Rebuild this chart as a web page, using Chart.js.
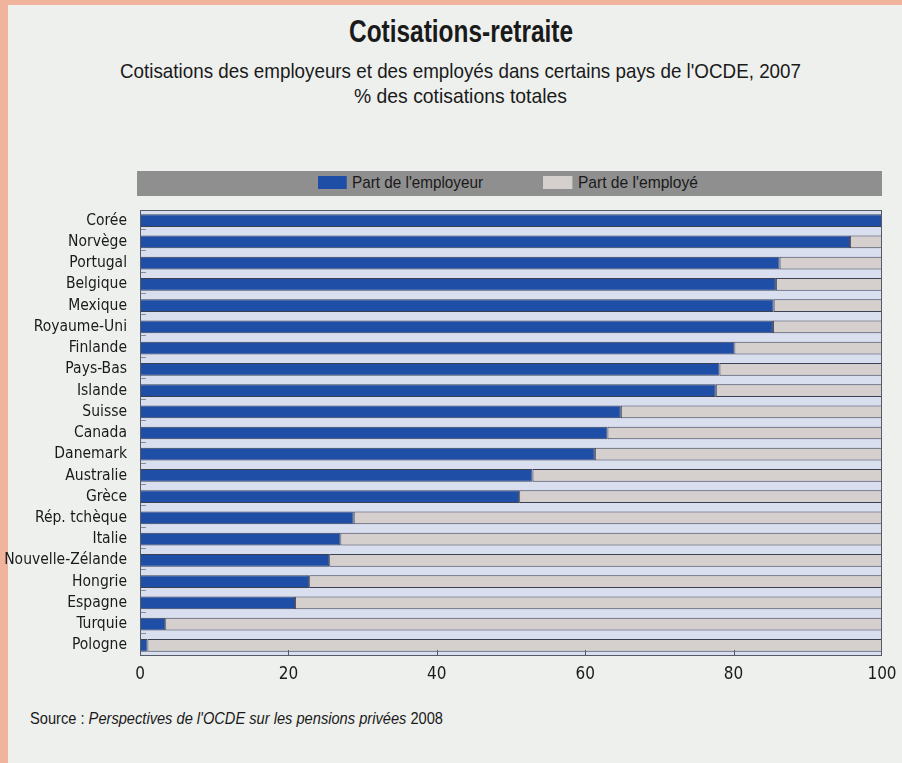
<!DOCTYPE html>
<html>
<head>
<meta charset="utf-8">
<script src="https://cdn.jsdelivr.net/npm/chart.js@4"></script>
<style>
  html, body { margin: 0; padding: 0; }
  body { width: 902px; height: 763px; background: #f0b39c; position: relative; overflow: hidden;
         font-family: "Liberation Sans", Arial, sans-serif; color: #1a1a1a; }
  #panel { position: absolute; left: 8px; top: 5px; right: 0; bottom: 0; background: #eef0ee; }
  .t { position: absolute; white-space: nowrap; transform-origin: 0 0; }
  #title { top: 14px; font-size: 31px; font-weight: bold; }
  #sub1 { top: 59px; font-size: 21px; }
  #sub2 { top: 84px; font-size: 21px; }
  #legend { position: absolute; left: 137px; top: 171px; width: 745px; height: 25px; background: #8f8f8f; }
  .item { position: absolute; top: 2px; font-size: 17px; line-height: 20px; color: #1a1a1a;
          white-space: nowrap; transform-origin: 0 0; }
  .box { display: inline-block; width: 32px; height: 13px; vertical-align: -1px; margin-right: 6px; }
  #source { top: 709px; left: 30px; font-size: 17px; }
  canvas { position: absolute; left: 0; top: 0; }
</style>
</head>
<body>
<div id="panel"></div>
<div class="t" id="title" data-w="224" data-c="461">Cotisations-retraite</div>
<div class="t" id="sub1" data-w="681" data-c="460">Cotisations des employeurs et des employés dans certains pays de l'OCDE, 2007</div>
<div class="t" id="sub2" data-w="213" data-c="460">% des cotisations totales</div>
<div id="legend"></div>
<div class="t" id="source" data-w="413">Source : <i>Perspectives de l'OCDE sur les pensions privées</i> 2008</div>
<canvas id="chart" width="902" height="763"></canvas>
<script>
const countries = ['Corée', 'Norvège', 'Portugal', 'Belgique', 'Mexique', 'Royaume-Uni', 'Finlande',
  'Pays-Bas', 'Islande', 'Suisse', 'Canada', 'Danemark', 'Australie', 'Grèce', 'Rép. tchèque',
  'Italie', 'Nouvelle-Zélande', 'Hongrie', 'Espagne', 'Turquie', 'Pologne'];
const employerShare = [100, 95.7, 86.2, 85.7, 85.4, 85.3, 80.1, 78.1, 77.6, 64.8, 63.0,
  61.3, 52.9, 51.1, 28.8, 27.0, 25.5, 22.8, 20.9, 3.4, 1.0];
const employeeShare = [0, 4.3, 13.8, 14.3, 14.6, 14.7, 19.9, 21.9, 22.4, 35.2, 37.0,
  38.7, 47.1, 48.9, 71.2, 73.0, 74.5, 77.2, 79.1, 96.6, 99.0];
const xTicks = [0, 20, 40, 60, 80, 100];

const font = '"DejaVu Sans Condensed", "Liberation Sans", sans-serif';

const datasets = [
  { label: "Part de l'employeur", data: employerShare, backgroundColor: '#1f4ea6' },
  { label: "Part de l'employé", data: employeeShare, backgroundColor: '#d5cfcd' },
];

// legend in the grey strip, built from the datasets
const legendLeft = [181, 406];
const legendW = [165, 155];
const legend = document.getElementById('legend');
datasets.forEach((ds, i) => {
  const el = document.createElement('div');
  el.className = 'item';
  el.dataset.w = legendW[i];
  el.style.left = legendLeft[i] + 'px';
  el.innerHTML = '<span class="box" style="background:' + ds.backgroundColor + '"></span>' + ds.label;
  legend.appendChild(el);
});

// squeeze text to the narrow look of the original
document.querySelectorAll('[data-w]').forEach(el => {
  const w = el.getBoundingClientRect().width;
  const k = +el.dataset.w / w;
  el.style.transform = 'scaleX(' + k + ')';
  if (el.dataset.c) el.style.left = (+el.dataset.c - el.dataset.w / 2) + 'px';
});

// plot background, frame and small inner ticks
const frame = {
  id: 'frame',
  beforeDatasetsDraw(chart) {
    const { ctx, chartArea: a } = chart;
    ctx.save();
    ctx.fillStyle = '#dadff0';
    ctx.fillRect(a.left, a.top, a.right - a.left, a.bottom - a.top);
    ctx.restore();
  },
  afterDatasetsDraw(chart) {
    const { ctx, chartArea: a, scales } = chart;
    ctx.save();
    ctx.strokeStyle = '#555a66';
    ctx.lineWidth = 1;
    ctx.strokeRect(a.left + 0.5, a.top + 0.5, a.right - a.left - 1, a.bottom - a.top - 1);
    ctx.beginPath();
    xTicks.slice(1, -1).forEach(v => {
      const x = Math.round(scales.x.getPixelForValue(v)) + 0.5;
      ctx.moveTo(x, a.bottom);
      ctx.lineTo(x, a.bottom - 6);
    });
    ctx.stroke();
    ctx.strokeStyle = '#8a8d98';
    ctx.beginPath();
    for (let i = 1; i < countries.length; i++) {
      const y = Math.round((scales.y.getPixelForValue(i - 1) + scales.y.getPixelForValue(i)) / 2) - 1.5;
      ctx.moveTo(a.left + 1, y);
      ctx.lineTo(a.left + 6, y);
    }
    ctx.stroke();
    ctx.restore();
  }
};

new Chart(document.getElementById('chart'), {
  type: 'bar',
  data: {
    labels: countries,
    datasets: datasets.map(ds => ({
      ...ds,
      borderColor: '#3c4152',
      borderWidth: 1,
      borderSkipped: false,
      categoryPercentage: 1,
      barPercentage: 0.6,
    })),
  },
  options: {
    indexAxis: 'y',
    responsive: false,
    animation: false,
    layout: { padding: { left: 0, right: 20, top: 210, bottom: 77 } },
    plugins: { legend: { display: false }, tooltip: { enabled: false } },
    scales: {
      x: {
        stacked: true, min: 0, max: 100,
        afterBuildTicks: s => { s.ticks = xTicks.map(v => ({ value: v })); },
        afterFit: s => { s.height = 30; },
        grid: { display: false },
        border: { display: false },
        ticks: { color: '#1a1a1a', font: { family: font, size: 17 }, padding: 0 },
      },
      y: {
        stacked: true,
        afterFit: s => { s.width = 140; },
        grid: { display: false },
        border: { display: false },
        ticks: { color: '#1a1a1a', font: { family: font, size: 15.5 }, padding: 5, autoSkip: false },
      },
    },
  },
  plugins: [frame],
});
</script>
</body>
</html>
